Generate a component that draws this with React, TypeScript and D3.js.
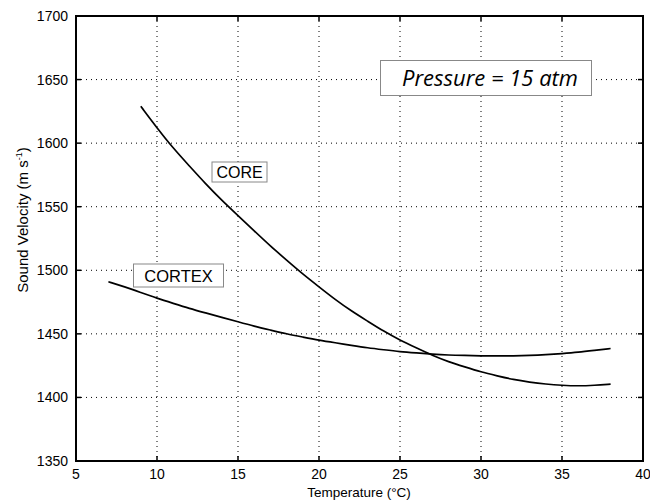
import React from "react";
import * as d3 from "d3";

const coreT = [9, 10, 11, 12, 13, 14, 15, 16, 17, 18, 19, 20, 21, 22, 23, 24, 25, 26, 27, 28, 29, 30, 31, 32, 33, 34, 35, 36, 37, 38];
const coreV = [1629, 1612, 1596, 1582, 1568, 1555, 1543, 1531, 1519, 1508, 1497, 1487, 1477, 1468, 1460, 1452, 1445, 1439, 1433, 1428, 1424, 1420, 1417, 1414, 1412, 1410.5, 1409.5, 1409, 1409.5, 1410.5];
const cortexT = [7, 8, 9, 10, 11, 12, 13, 14, 15, 16, 17, 18, 19, 20, 21, 22, 23, 24, 25, 26, 27, 28, 29, 30, 31, 32, 33, 34, 35, 36, 37, 38];
const cortexV = [1491, 1487, 1482.5, 1478, 1474, 1470, 1466.5, 1463, 1459.5, 1456, 1453, 1450, 1447.5, 1445, 1443, 1441, 1439, 1437.5, 1436, 1435, 1434, 1433.3, 1433, 1432.7, 1432.6, 1432.7, 1433, 1433.6, 1434.5, 1435.5, 1437, 1438.5];
const xTicks = [5, 10, 15, 20, 25, 30, 35, 40];
const yTicks = [1350, 1400, 1450, 1500, 1550, 1600, 1650, 1700];

const font = "'Liberation Sans', Arial, Helvetica, sans-serif";

export default function App() {
  const x = d3.scaleLinear().domain([5, 40]).range([76, 643]);
  const y = d3.scaleLinear().domain([1350, 1700]).range([461, 16]);
  const line = d3
    .line<[number, number]>()
    .x((d) => x(d[0]))
    .y((d) => y(d[1]))
    .curve(d3.curveBasis);
  const core = coreT.map((t, i) => [t, coreV[i]] as [number, number]);
  const cortex = cortexT.map((t, i) => [t, cortexV[i]] as [number, number]);
  const [x0, x1] = x.range();
  const [y0, y1] = y.range();
  const tl = 5;

  return (
    <svg
      width={650}
      height={502}
      style={{ position: "absolute", left: 0, top: 0, background: "#fff" }}
      fontFamily={font}
    >
      <rect x={0} y={0} width={650} height={502} fill="#fff" />
      {xTicks.slice(1, -1).map((t) => (
        <line key={"gx" + t} x1={x(t)} x2={x(t)} y1={y1} y2={y0} stroke="#000" strokeWidth={1} strokeDasharray="1,4" />
      ))}
      {yTicks.slice(1, -1).map((t) => (
        <line key={"gy" + t} x1={x0} x2={x1} y1={y(t)} y2={y(t)} stroke="#000" strokeWidth={1} strokeDasharray="1,4" />
      ))}
      {xTicks.map((t) => (
        <g key={"tx" + t}>
          <line x1={x(t)} x2={x(t)} y1={y0} y2={y0 - tl} stroke="#000" strokeWidth={1.5} />
          <line x1={x(t)} x2={x(t)} y1={y1} y2={y1 + tl} stroke="#000" strokeWidth={1.5} />
          <text x={x(t)} y={479} textAnchor="middle" fontSize={14} fill="#000">
            {t}
          </text>
        </g>
      ))}
      {yTicks.map((t) => (
        <g key={"ty" + t}>
          <line x1={x0} x2={x0 + tl} y1={y(t)} y2={y(t)} stroke="#000" strokeWidth={1.5} />
          <line x1={x1} x2={x1 - tl} y1={y(t)} y2={y(t)} stroke="#000" strokeWidth={1.5} />
          <text x={68} y={y(t) + 5} textAnchor="end" fontSize={14} fill="#000">
            {t}
          </text>
        </g>
      ))}
      <rect x={x0} y={y1} width={x1 - x0} height={y0 - y1} fill="none" stroke="#000" strokeWidth={2} />
      <path d={line(core) || ""} fill="none" stroke="#000" strokeWidth={1.7} />
      <path d={line(cortex) || ""} fill="none" stroke="#000" strokeWidth={1.7} />
      <rect x={212} y={162} width={55} height={20} fill="#fff" stroke="#888" strokeWidth={1} />
      <text x={239.5} y={178} textAnchor="middle" fontSize={16} fill="#000">
        CORE
      </text>
      <rect x={133.5} y={264} width={90} height={23} fill="#fff" stroke="#888" strokeWidth={1} />
      <text x={178.5} y={282} textAnchor="middle" fontSize={16.5} fill="#000">
        CORTEX
      </text>
      <rect x={380.5} y={60.5} width={211} height={35} fill="#fff" stroke="#888" strokeWidth={1} />
      <text
        x={490}
        y={86}
        textAnchor="middle"
        fontSize={21}
        fontStyle="italic"
        fontFamily="'Open Sans', sans-serif"
        textLength={176}
        lengthAdjust="spacingAndGlyphs"
        fill="#000"
      >
        Pressure = 15 atm
      </text>
      <text x={359} y={497} textAnchor="middle" fontSize={13.5} fill="#000">
        Temperature (°C)
      </text>
      <text transform="translate(28,220) rotate(-90)" textAnchor="middle" fontSize={15} fill="#000">
        Sound Velocity (m s
        <tspan dy={-6} fontSize={9}>-1</tspan>
        <tspan dy={6}>)</tspan>
      </text>
    </svg>
  );
}
